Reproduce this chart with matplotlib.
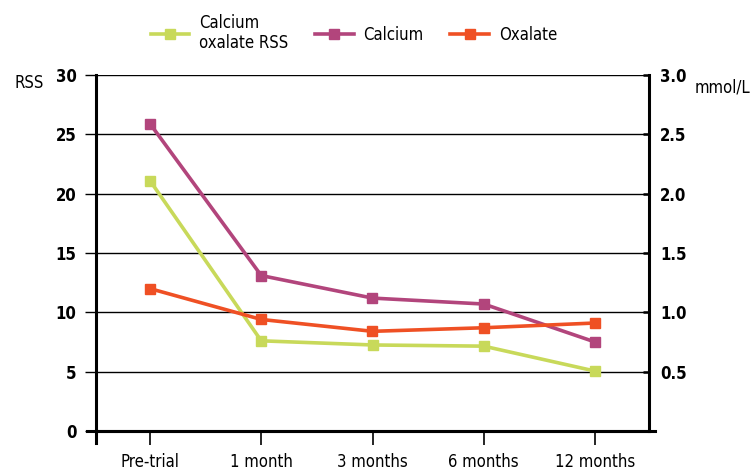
import matplotlib.pyplot as plt

plt.rcParams['font.family'] = ['DejaVu Sans']
plt.rcParams['font.stretch'] = 'condensed'

months = ["Pre-trial", "1 month", "3 months", "6 months", "12 months"]
rss = [21.1, 7.6, 7.25, 7.15, 5.05]       # left axis, RSS
calcium = [2.59, 1.31, 1.12, 1.07, 0.75]  # right axis, mmol/L
oxalate = [1.20, 0.94, 0.84, 0.87, 0.91]  # right axis, mmol/L

left_ticks = [0, 5, 10, 15, 20, 25, 30]
right_ticks = [0.5, 1.0, 1.5, 2.0, 2.5, 3.0]

c_rss = "#c8d95a"
c_ca = "#b2457c"
c_ox = "#ef5024"

fig = plt.figure(figsize=(7.56, 4.74), dpi=100)
ax = fig.add_axes([96 / 756, 1 - 431 / 474, 553 / 756, 356 / 474])
ax2 = ax.twinx()

x = list(range(len(months)))
l1, = ax.plot(x, rss, color=c_rss, lw=2.6, marker="s", ms=7, label="Calcium\noxalate RSS")
l2, = ax2.plot(x, calcium, color=c_ca, lw=2.6, marker="s", ms=7, label="Calcium")
l3, = ax2.plot(x, oxalate, color=c_ox, lw=2.6, marker="s", ms=7, label="Oxalate")

ax.set_xlim(-0.485, 4.485)
ax.set_ylim(0, 30)
ax2.set_ylim(0, 3)

ax.set_yticks(left_ticks)
ax.set_yticklabels([str(t) for t in left_ticks], fontsize=12, fontweight="bold")
ax2.set_yticks(right_ticks)
ax2.set_yticklabels(["%.1f" % t for t in right_ticks], fontsize=12, fontweight="bold")
ax.grid(axis="y", color="black", lw=1)
ax.set_axisbelow(True)

ax.set_xticks(x)
ax.set_xticklabels(months, fontsize=12)
ax.tick_params(axis="x", length=10, width=1.2, pad=6)
ax.tick_params(axis="y", length=8, width=1, pad=6, direction="out")
ax2.tick_params(axis="y", length=4, width=1.8, pad=8, direction="in")

for a in (ax, ax2):
    a.spines["top"].set_visible(False)
    for s in ("left", "right", "bottom"):
        a.spines[s].set_linewidth(2.2)
        a.spines[s].set_color("black")
ax2.spines["left"].set_visible(False)
ax2.spines["bottom"].set_visible(False)
ax.spines["right"].set_visible(False)

# small overshoot of the axis lines as in the original
ax.plot([-0.016, 1.01], [0, 0], transform=ax.transAxes, color="black", lw=2.2, clip_on=False)
ax.plot([0, 0], [-0.033, 0], transform=ax.transAxes, color="black", lw=2.2, clip_on=False)

fig.text(15 / 756, 1 - 83 / 474, "RSS", fontsize=12, ha="left", va="center")
fig.text(695 / 756, 1 - 87 / 474, "mmol/L", fontsize=12, ha="left", va="center")

fig.legend(handles=[l1, l2, l3], loc="center", bbox_to_anchor=(354 / 756, 1 - 33 / 474),
           ncol=3, frameon=False, fontsize=12, handlelength=2.3, columnspacing=1.6,
           handletextpad=0.6)

fig.savefig("out.png", dpi=100)
